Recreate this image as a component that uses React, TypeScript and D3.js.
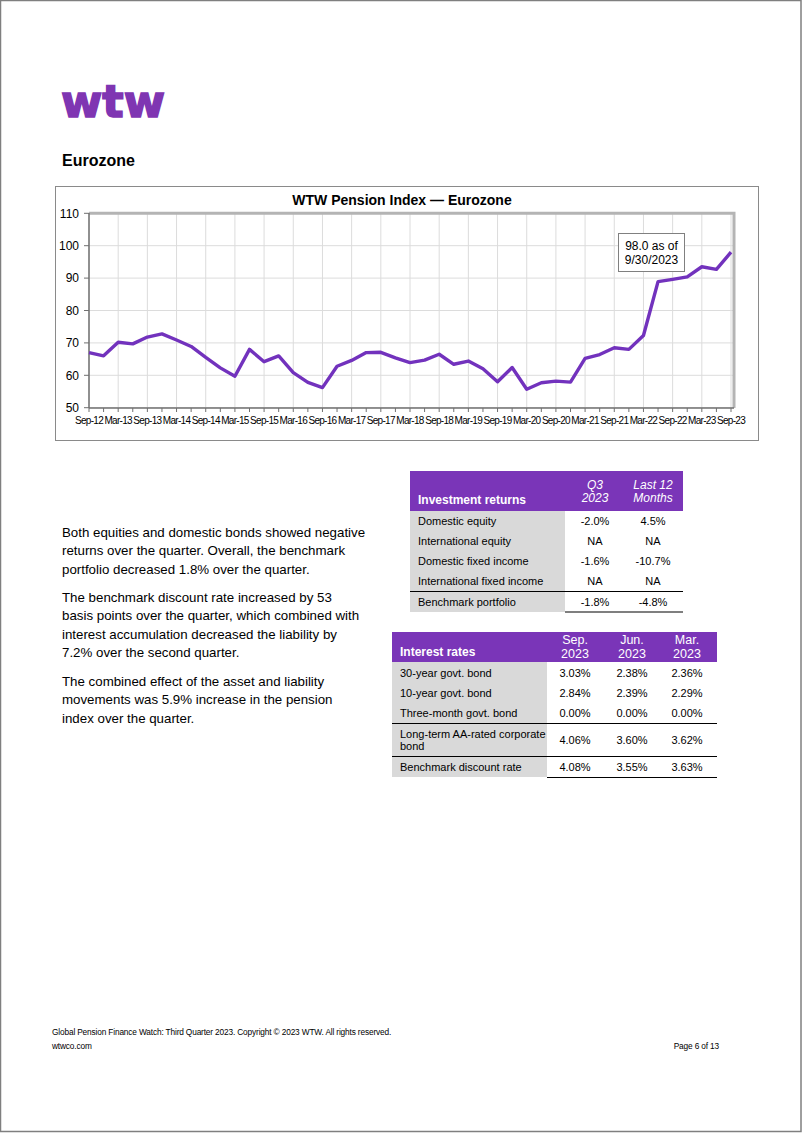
import React from "react";
import * as d3 from "d3";

const indexValues: number[] = [
  67.0, 66.0, 70.2, 69.7, 71.8, 72.8, 70.9, 68.9, 65.5, 62.3, 59.7, 68.0,
  64.2, 66.0, 60.8, 57.8, 56.2, 62.8, 64.6, 67.0, 67.1, 65.4, 63.9, 64.7,
  66.5, 63.4, 64.4, 62.0, 58.0, 62.4, 55.7, 57.7, 58.2, 57.9, 65.2, 66.4,
  68.5, 68.0, 72.3, 88.9, 89.6, 90.4, 93.5, 92.7, 98.0,
];
const tickLabels: string[] = [
  "Sep-12", "Mar-13", "Sep-13", "Mar-14", "Sep-14", "Mar-15", "Sep-15", "Mar-16",
  "Sep-16", "Mar-17", "Sep-17", "Mar-18", "Sep-18", "Mar-19", "Sep-19", "Mar-20",
  "Sep-20", "Mar-21", "Sep-21", "Mar-22", "Sep-22", "Mar-23", "Sep-23",
];
const yTicks: number[] = [50, 60, 70, 80, 90, 100, 110];

const invRows: string[] = ["Domestic equity", "International equity", "Domestic fixed income", "International fixed income", "Benchmark portfolio"];
const invQ3: string[] = ["-2.0%", "NA", "-1.6%", "NA", "-1.8%"];
const inv12m: string[] = ["4.5%", "NA", "-10.7%", "NA", "-4.8%"];

const rateRows: string[][] = [["30-year govt. bond"], ["10-year govt. bond"], ["Three-month govt. bond"], ["Long-term AA-rated corporate", "bond"], ["Benchmark discount rate"]];
const rateSep: string[] = ["3.03%", "2.84%", "0.00%", "4.06%", "4.08%"];
const rateJun: string[] = ["2.38%", "2.39%", "0.00%", "3.60%", "3.55%"];
const rateMar: string[] = ["2.36%", "2.29%", "0.00%", "3.62%", "3.63%"];

const paragraphs: string[][] = [
  ["Both equities and domestic bonds showed negative", "returns over the quarter. Overall, the benchmark", "portfolio decreased 1.8% over the quarter."],
  ["The benchmark discount rate increased by 53", "basis points over the quarter, which combined with", "interest accumulation decreased the liability by", "7.2% over the second quarter."],
  ["The combined effect of the asset and liability", "movements was 5.9% increase in the pension", "index over the quarter."],
];

const FONT = "'Liberation Sans', Arial, sans-serif";
const PURPLE = "#7A35B8";
const LINE = "#7232BD";
const GRAYCELL = "#D9D9D9";

export default function App() {
  const x = d3.scaleLinear().domain([0, indexValues.length - 1]).range([89, 731]);
  const y = d3.scaleLinear().domain([50, 110]).range([407.7, 213.3]);
  const line = d3.line<number>().x((_, i) => x(i)).y((d) => y(d));
  const quarterIdx = d3.range(indexValues.length);

  const invRowY = d3.scaleLinear().domain([0, 1]).range([521, 541]);
  const invRowCenters = invRows.map((_, i) => (i < 4 ? invRowY(i) : 602));
  const rateCenters = [673, 693, 713, 740, 767];

  return (
    <svg width={802} height={1133} style={{ position: "absolute", left: 0, top: 0, display: "block" }} fontFamily={FONT}>
      <rect x={0} y={0} width={802} height={1133} fill="#fff" />
      <rect x={0.5} y={0.5} width={800.5} height={1131} fill="none" stroke="#7f7f7f" strokeWidth={1.5} />

      {/* logo */}
      <text x={61} y={116.5} fontSize={45} fontWeight={900} fill="#7F35B2" stroke="#7F35B2" strokeWidth={1.6} strokeLinejoin="miter" textLength={104} lengthAdjust="spacingAndGlyphs" fontFamily="'DejaVu Sans', sans-serif">wtw</text>

      <text x={62} y={166} fontSize={16} fontWeight="bold" fill="#000">Eurozone</text>

      {/* chart box */}
      <rect x={55.5} y={186.5} width={703} height={254} fill="#fff" stroke="#8a8a8a" strokeWidth={1} />
      <text x={402} y={205} fontSize={14} fontWeight="bold" textAnchor="middle" fill="#000">WTW Pension Index — Eurozone</text>

      {tickLabels.map((_, i) => (
        <line key={"vg" + i} x1={x(i * 2)} x2={x(i * 2)} y1={213} y2={408} stroke="#dcdcdc" strokeWidth={1} />
      ))}
      {yTicks.map((t) => (
        <line key={"hg" + t} x1={89} x2={734} y1={y(t)} y2={y(t)} stroke="#dcdcdc" strokeWidth={1} />
      ))}
      <path d={`M89,${y(110)} H734 V408`} fill="none" stroke="#b4b4b4" strokeWidth={3} />
      <line x1={89} x2={89} y1={213} y2={408} stroke="#707070" strokeWidth={1.5} />
      <line x1={89} x2={734} y1={408} y2={408} stroke="#707070" strokeWidth={1.5} />
      {yTicks.map((t) => (
        <g key={"yt" + t}>
          <line x1={84} x2={89} y1={y(t)} y2={y(t)} stroke="#707070" />
          <text x={79} y={y(t) + 4.3} fontSize={12} textAnchor="end" fill="#000">{t}</text>
        </g>
      ))}
      {quarterIdx.map((i) => (
        <line key={"xt" + i} x1={x(i)} x2={x(i)} y1={408} y2={412} stroke="#707070" />
      ))}
      {tickLabels.map((lab, i) => (
        <text key={"xl" + i} x={x(i * 2)} y={424} fontSize={10} textAnchor="middle" letterSpacing={-0.7} fill="#000">{lab}</text>
      ))}

      <path d={line(indexValues) || ""} fill="none" stroke={LINE} strokeWidth={3.4} strokeLinejoin="round" />

      <rect x={618.5} y={233.5} width={66} height={38} fill="#fff" stroke="#808080" strokeWidth={1} />
      <text x={651.5} y={250} fontSize={12} textAnchor="middle" fill="#000">98.0 as of</text>
      <text x={651.5} y={264} fontSize={12} textAnchor="middle" fill="#000">9/30/2023</text>

      {paragraphs.map((p, pi) =>
        p.map((ln, li) => {
          const base = [537, 602, 686][pi];
          return (
            <text key={`p${pi}-${li}`} x={62} y={base + li * 18.4} fontSize={13.3} fill="#000">{ln}</text>
          );
        })
      )}

      <rect x={410} y={471} width={273} height={40} fill={PURPLE} />
      <text x={418} y={504} fontSize={12} fontWeight="bold" fill="#fff">Investment returns</text>
      <text x={595} y={489} fontSize={12} fontStyle="italic" textAnchor="middle" fill="#fff">Q3</text>
      <text x={595} y={502} fontSize={12} fontStyle="italic" textAnchor="middle" fill="#fff">2023</text>
      <text x={653} y={489} fontSize={12} fontStyle="italic" textAnchor="middle" fill="#fff">Last 12</text>
      <text x={653} y={502} fontSize={12} fontStyle="italic" textAnchor="middle" fill="#fff">Months</text>
      <rect x={410} y={511} width={155} height={101} fill={GRAYCELL} />
      {invRows.map((r, i) => (
        <g key={"ir" + i}>
          <text x={418} y={invRowCenters[i] + 4} fontSize={11} fill="#000">{r}</text>
          <text x={595} y={invRowCenters[i] + 4} fontSize={11} textAnchor="middle" fill="#000">{invQ3[i]}</text>
          <text x={653} y={invRowCenters[i] + 4} fontSize={11} textAnchor="middle" fill="#000">{inv12m[i]}</text>
        </g>
      ))}
      <line x1={410} x2={683} y1={591.5} y2={591.5} stroke="#000" strokeWidth={1} />
      <line x1={565} x2={683} y1={612} y2={612} stroke="#000" strokeWidth={1.2} />

      <rect x={392} y={632} width={325} height={30} fill={PURPLE} />
      <text x={400} y={656} fontSize={12} fontWeight="bold" fill="#fff">Interest rates</text>
      {[["Sep.", 575], ["Jun.", 632], ["Mar.", 687]].map(([lab, cx]) => (
        <g key={"rh" + lab}>
          <text x={cx as number} y={644} fontSize={12.5} textAnchor="middle" fill="#fff">{lab}</text>
          <text x={cx as number} y={658} fontSize={12.5} textAnchor="middle" fill="#fff">2023</text>
        </g>
      ))}
      <rect x={392} y={662} width={155} height={115} fill={GRAYCELL} />
      {rateRows.map((r, i) => (
        <g key={"rr" + i}>
          {r.map((ln, li) => (
            <text key={li} x={400} y={(r.length > 1 ? 734 + li * 12 : rateCenters[i]) + 4} fontSize={11} fill="#000">{ln}</text>
          ))}
          <text x={575} y={rateCenters[i] + 4} fontSize={11} textAnchor="middle" fill="#000">{rateSep[i]}</text>
          <text x={632} y={rateCenters[i] + 4} fontSize={11} textAnchor="middle" fill="#000">{rateJun[i]}</text>
          <text x={687} y={rateCenters[i] + 4} fontSize={11} textAnchor="middle" fill="#000">{rateMar[i]}</text>
        </g>
      ))}
      <line x1={392} x2={717} y1={723.5} y2={723.5} stroke="#000" strokeWidth={1} />
      <line x1={392} x2={717} y1={756.5} y2={756.5} stroke="#000" strokeWidth={1} />
      <line x1={547} x2={717} y1={777.5} y2={777.5} stroke="#000" strokeWidth={1.2} />

      <text x={52} y={1035} fontSize={8.3} fill="#000" letterSpacing={-0.15}>Global Pension Finance Watch: Third Quarter 2023.  Copyright © 2023 WTW. All rights reserved.</text>
      <text x={52} y={1049} fontSize={8.3} fill="#000" letterSpacing={-0.15}>wtwco.com</text>
      <text x={719} y={1049} fontSize={8.3} fill="#000" textAnchor="end" letterSpacing={-0.15}>Page 6 of 13</text>
    </svg>
  );
}
